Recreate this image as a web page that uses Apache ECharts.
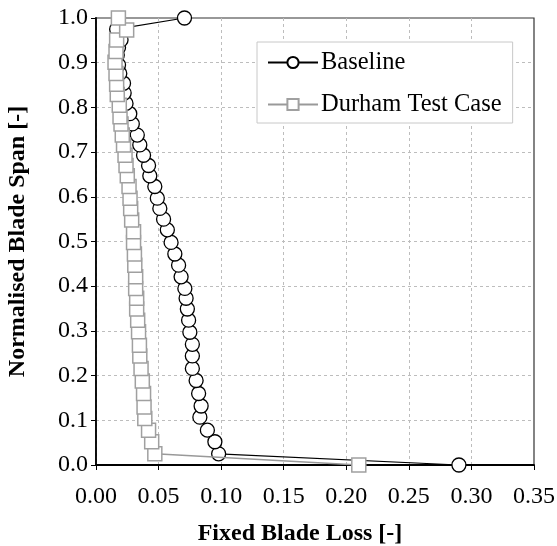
<!DOCTYPE html>
<html>
<head>
<meta charset="utf-8">
<script src="https://cdn.jsdelivr.net/npm/echarts@6/dist/echarts.min.js"></script>
<style>
  html, body { margin: 0; padding: 0; background: #fff; }
  #chart { width: 557px; height: 546px; }
</style>
</head>
<body>
<div id="chart"></div>
<script>
// Fixed blade loss vs normalised span
const baselineLoss = [0.290, 0.098, 0.095, 0.089, 0.083, 0.084, 0.082, 0.080, 0.077, 0.077,
  0.077, 0.075, 0.074, 0.073, 0.072, 0.071, 0.068, 0.066, 0.063, 0.060,
  0.057, 0.054, 0.051, 0.049, 0.047, 0.043, 0.042, 0.038, 0.035, 0.033,
  0.029, 0.027, 0.024, 0.0225, 0.022, 0.019, 0.018, 0.017, 0.018, 0.020, 0.0165, 0.0707];
const baselineSpan = [0.000, 0.025, 0.052, 0.078, 0.107, 0.132, 0.160, 0.189, 0.216, 0.244,
  0.270, 0.297, 0.324, 0.349, 0.373, 0.395, 0.421, 0.447, 0.472, 0.498,
  0.526, 0.550, 0.574, 0.597, 0.623, 0.647, 0.670, 0.693, 0.716, 0.738,
  0.763, 0.786, 0.809, 0.832, 0.854, 0.876, 0.895, 0.917, 0.934, 0.951, 0.975, 1.000];

const durhamLoss = [0.210, 0.047, 0.0445, 0.042, 0.039, 0.0384, 0.038, 0.037, 0.036, 0.035,
  0.0347, 0.034, 0.0333, 0.0325, 0.0325, 0.0317, 0.0317, 0.031, 0.0307, 0.030,
  0.030, 0.0285, 0.0277, 0.0272, 0.0264, 0.025, 0.024, 0.0232, 0.022, 0.021,
  0.020, 0.0192, 0.0186, 0.017, 0.0165, 0.016, 0.0152, 0.016, 0.0165, 0.0245, 0.0179];
const durhamSpan = [0.000, 0.025, 0.052, 0.078, 0.104, 0.130, 0.160, 0.188, 0.216, 0.244,
  0.268, 0.298, 0.324, 0.349, 0.373, 0.395, 0.421, 0.447, 0.472, 0.498,
  0.522, 0.548, 0.574, 0.597, 0.623, 0.647, 0.670, 0.693, 0.716, 0.738,
  0.763, 0.779, 0.805, 0.829, 0.852, 0.876, 0.901, 0.925, 0.951, 0.973, 1.000];

const seriesNames = ['Baseline', 'Durham Test Case'];

const font = 'Liberation Serif, Times New Roman, serif';

function pairs(xs, ys) {
  return xs.map((x, i) => [x, ys[i]]);
}

const chart = echarts.init(document.getElementById('chart'), null, { renderer: 'canvas' });

const option = {
  animation: false,
  backgroundColor: '#fff',
  grid: {
    left: 96, right: 23, top: 18, bottom: 81,
    containLabel: false,
    outerBoundsMode: 'none',
    show: true,
    borderColor: '#333',
    borderWidth: 1.2
  },
  legend: {
    left: 257, top: 42,
    orient: 'vertical',
    padding: [8, 11, 6, 10],
    itemGap: 17,
    itemWidth: 50,
    itemHeight: 14,
    backgroundColor: '#fff',
    borderColor: '#c8c8c8',
    borderWidth: 1,
    borderRadius: 0,
    textStyle: { fontFamily: font, fontSize: 24.5, color: '#000', padding: [0, 0, 0, -2] },
    data: seriesNames
  },
  xAxis: {
    type: 'value',
    min: 0, max: 0.35, interval: 0.05,
    name: 'Fixed Blade Loss [-]',
    nameLocation: 'middle',
    nameGap: 57,
    nameTextStyle: { fontFamily: font, fontSize: 24, fontWeight: 'bold', color: '#000', padding: [0, 30, 0, 0] },
    axisLine: { lineStyle: { color: '#000', width: 1.8 } },
    axisTick: { show: true, inside: false, length: 5, lineStyle: { color: '#000', width: 1 } },
    axisLabel: {
      fontFamily: font, fontSize: 24, color: '#000', margin: 20,
      formatter: v => v.toFixed(2)
    },
    splitLine: { show: true, showMaxLine: false, lineStyle: { color: '#bdbdbd', type: [3, 3], width: 1 } }
  },
  yAxis: {
    type: 'value',
    min: 0, max: 1, interval: 0.1,
    name: 'Normalised Blade Span [-]',
    nameLocation: 'middle',
    nameGap: 66,
    nameTextStyle: { fontFamily: font, fontSize: 24, fontWeight: 'bold', color: '#000' },
    axisLine: { show: true, lineStyle: { color: '#000', width: 1.8 } },
    axisTick: { show: true, inside: false, length: 5, lineStyle: { color: '#000', width: 1 } },
    axisLabel: {
      fontFamily: font, fontSize: 24, color: '#000', margin: 8,
      formatter: v => v.toFixed(1)
    },
    splitLine: { show: true, showMaxLine: false, lineStyle: { color: '#bdbdbd', type: [3, 3], width: 1 } }
  },
  series: [
    {
      name: seriesNames[0],
      type: 'line',
      data: pairs(baselineLoss, baselineSpan),
      symbol: 'circle',
      symbolSize: 14,
      showAllSymbol: true,
      lineStyle: { color: '#000', width: 1.2 },
      itemStyle: { color: '#fff', borderColor: '#000', borderWidth: 1.3 },
      z: 2
    },
    {
      name: seriesNames[1],
      type: 'line',
      data: pairs(durhamLoss, durhamSpan),
      symbol: 'rect',
      symbolSize: 14,
      showAllSymbol: true,
      lineStyle: { color: '#999', width: 1.5 },
      itemStyle: { color: '#fff', borderColor: '#a0a0a0', borderWidth: 1.5 },
      z: 3
    }
  ]
};

chart.setOption(option);
</script>
</body>
</html>
